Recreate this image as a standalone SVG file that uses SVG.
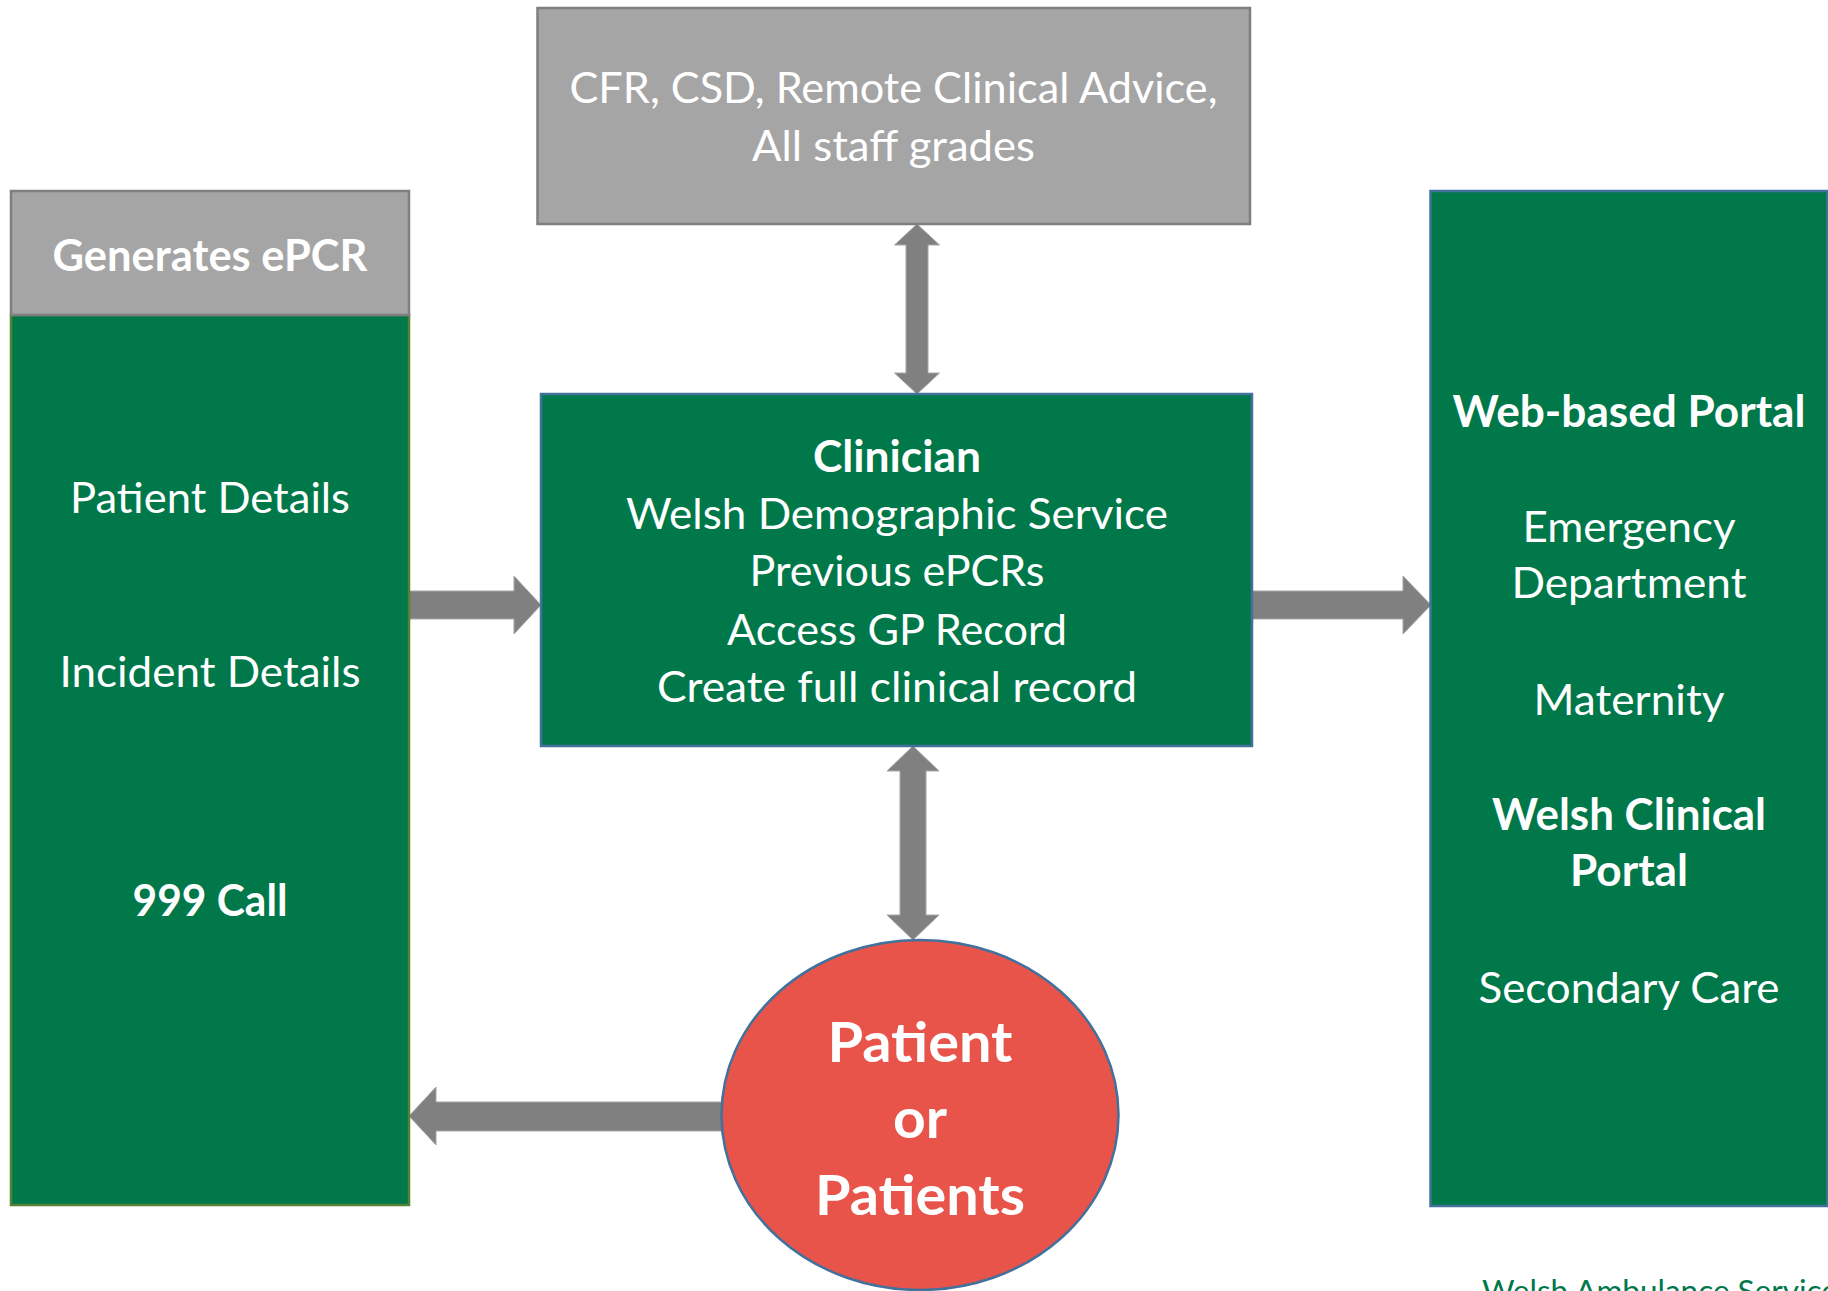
<svg xmlns="http://www.w3.org/2000/svg" width="1828" height="1291" viewBox="0 0 1828 1291">
<style>
.t{font-family:Lato,"Open Sans","Liberation Sans",sans-serif;fill:#ffffff;font-size:43px;text-anchor:middle}
.b{font-weight:bold}
.big{font-size:56px;font-weight:bold}
.green{fill:#00784A;stroke:#548235;stroke-width:2.5}
.greenb{fill:#00784A;stroke:#41719C;stroke-width:2.5}
.gray{fill:#A5A5A5;stroke:#7F7F7F;stroke-width:2.5}
.arr{fill:#808080;stroke:#A6A6A6;stroke-width:1}
</style>
<rect width="1828" height="1291" fill="#ffffff"/>
<g id="connectors">
<polygon class="arr" points="917,224 939.5,245 928,245 928,373 939.5,373 917,394 894.5,373 906,373 906,245 894.5,245"/>
<polygon class="arr" points="913,746 939,771 926,771 926,915 939,915 913,940 887,915 900,915 900,771 887,771"/>
<polygon class="arr" points="409,591 514,591 514,576 541,605 514,634 514,619 409,619"/>
<polygon class="arr" points="1252,591 1403,591 1403,576 1431,605 1403,634 1403,619 1252,619"/>
<polygon class="arr" points="409,1116 436,1087 436,1102 728,1102 728,1131 436,1131 436,1145"/>
</g>
<g id="top-box">
<rect class="gray" x="537.5" y="8" width="712.5" height="216"/>
<text class="t" x="893.5" y="103" textLength="648" lengthAdjust="spacingAndGlyphs">CFR, CSD, Remote Clinical Advice,</text>
<text class="t" x="893.5" y="161" textLength="283" lengthAdjust="spacingAndGlyphs">All staff grades</text>
</g>
<g id="left-box">
<rect class="green" x="11" y="315" width="398" height="890"/>
<rect class="gray" x="11" y="191" width="398" height="124"/>
<text class="t b" x="210" y="271" textLength="315" lengthAdjust="spacingAndGlyphs">Generates ePCR</text>
<text class="t" x="210" y="513" textLength="280" lengthAdjust="spacingAndGlyphs">Patient Details</text>
<text class="t" x="210" y="687" textLength="301" lengthAdjust="spacingAndGlyphs">Incident Details</text>
<text class="t b" x="210" y="916" textLength="155" lengthAdjust="spacingAndGlyphs">999 Call</text>
</g>
<g id="clinician">
<rect class="greenb" x="541" y="394" width="711" height="352"/>
<text class="t b" x="897" y="472" textLength="168" lengthAdjust="spacingAndGlyphs">Clinician</text>
<text class="t" x="897" y="529" textLength="542" lengthAdjust="spacingAndGlyphs">Welsh Demographic Service</text>
<text class="t" x="897" y="586" textLength="295" lengthAdjust="spacingAndGlyphs">Previous ePCRs</text>
<text class="t" x="897" y="645" textLength="340" lengthAdjust="spacingAndGlyphs">Access GP Record</text>
<text class="t" x="897" y="702" textLength="480" lengthAdjust="spacingAndGlyphs">Create full clinical record</text>
</g>
<g id="right-box">
<rect class="greenb" x="1430.5" y="191" width="397" height="1015"/>
<text class="t b" x="1629" y="427" textLength="353" lengthAdjust="spacingAndGlyphs">Web-based Portal</text>
<text class="t" x="1629" y="542" textLength="213" lengthAdjust="spacingAndGlyphs">Emergency</text>
<text class="t" x="1629" y="598" textLength="235" lengthAdjust="spacingAndGlyphs">Department</text>
<text class="t" x="1629" y="715" textLength="191" lengthAdjust="spacingAndGlyphs">Maternity</text>
<text class="t b" x="1629" y="830" textLength="274" lengthAdjust="spacingAndGlyphs">Welsh Clinical</text>
<text class="t b" x="1629" y="886" textLength="118" lengthAdjust="spacingAndGlyphs">Portal</text>
<text class="t" x="1629" y="1003" textLength="301" lengthAdjust="spacingAndGlyphs">Secondary Care</text>
</g>
<g id="patient">
<ellipse cx="920" cy="1115" rx="198.5" ry="175" fill="#E8534A" stroke="#41719C" stroke-width="2.5"/>
<text class="t big" x="920" y="1062" textLength="185" lengthAdjust="spacingAndGlyphs">Patient</text>
<text class="t big" x="920" y="1138" textLength="54" lengthAdjust="spacingAndGlyphs">or</text>
<text class="t big" x="920" y="1215" textLength="210" lengthAdjust="spacingAndGlyphs">Patients</text>
</g>
<g id="footer">
<text x="1482" y="1302" font-family="Lato,'Open Sans','Liberation Sans',sans-serif" font-size="31.5" fill="#00784A">Welsh Ambulance Services</text>
</g>
</svg>
